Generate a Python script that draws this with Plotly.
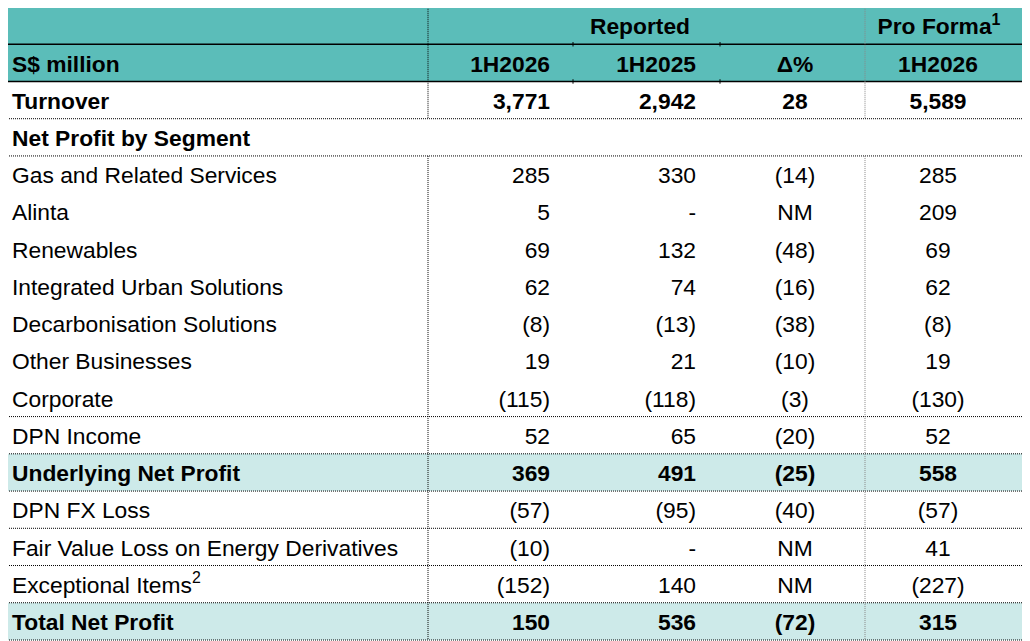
import plotly.graph_objects as go

# table content
labels = ["Turnover", "Net Profit by Segment", "Gas and Related Services", "Alinta",
          "Renewables", "Integrated Urban Solutions", "Decarbonisation Solutions",
          "Other Businesses", "Corporate", "DPN Income", "Underlying Net Profit",
          "DPN FX Loss", "Fair Value Loss on Energy Derivatives",
          "Exceptional Items<sup>2</sup>", "Total Net Profit"]
rep_1h2026 = [3771, None, 285, 5, 69, 62, -8, 19, -115, 52, 369, -57, -10, -152, 150]
rep_1h2025 = [2942, None, 330, "-", 132, 74, -13, 21, -118, 65, 491, -95, "-", 140, 536]
delta_pct = [28, None, -14, "NM", -48, -16, -38, -10, -3, -20, -25, -40, "NM", "NM", -72]
proforma_1h2026 = [5589, None, 285, 209, 69, 62, -8, 19, -130, 52, 558, -57, 41, -227, 315]

header_top = ["Reported", "Pro Forma<sup>1</sup>"]
header_cols = ["S$ million", "1H2026", "1H2025", "Δ%", "1H2026"]

bold_rows = ["Turnover", "Net Profit by Segment", "Underlying Net Profit", "Total Net Profit"]
shaded_rows = ["Underlying Net Profit", "Total Net Profit"]
lines_after = ["Turnover", "Net Profit by Segment", "Corporate", "DPN Income",
               "Underlying Net Profit", "DPN FX Loss",
               "Fair Value Loss on Energy Derivatives", "Exceptional Items<sup>2</sup>",
               "Total Net Profit"]

TEAL = "#5bbdb9"
LIGHT = "#cdeae9"
FONT = "Liberation Sans, Arial, sans-serif"
FS = 22.8
X0, X1 = 5, 1027
PAGE_OFF = 8  # default body margin of the html page
TXT_DY = 0.08  # nudge text down a little inside each row


def fmt(v):
    if v is None:
        return ""
    if isinstance(v, str):
        return v
    s = f"{abs(v):,}"
    return f"({s})" if v < 0 else s


def bold(txt, on):
    return f"<b>{txt}</b>" if on else txt


fig = go.Figure()


def add_col(x, texts, pos):
    pts = [(i, bold(t, labels[i] in bold_rows)) for i, t in enumerate(texts) if t]
    fig.add_trace(go.Scatter(
        x=[x] * len(pts), y=[p[0] + TXT_DY for p in pts], mode="text",
        text=[p[1] for p in pts],
        textposition=pos, textfont=dict(family=FONT, size=FS, color="black"),
        hoverinfo="skip", showlegend=False))


add_col(12, labels, "middle right")
add_col(550, [fmt(v) for v in rep_1h2026], "middle left")
add_col(696, [fmt(v) for v in rep_1h2025], "middle left")
add_col(795, [fmt(v) for v in delta_pct], "middle center")
add_col(938, [fmt(v) for v in proforma_1h2026], "middle center")

# header rows (-2 and -1)
fig.add_trace(go.Scatter(
    x=[640, 939], y=[-2 + TXT_DY] * 2, mode="text",
    text=[f"<b>{t}</b>" for t in header_top], textposition="middle center",
    textfont=dict(family=FONT, size=FS, color="black"),
    hoverinfo="skip", showlegend=False))
fig.add_trace(go.Scatter(
    x=[12, 550, 696, 795, 938], y=[-1 + TXT_DY] * 5, mode="text",
    text=[f"<b>{t}</b>" for t in header_cols],
    textposition=["middle right", "middle left", "middle left", "middle center", "middle center"],
    textfont=dict(family=FONT, size=FS, color="black"),
    hoverinfo="skip", showlegend=False))

shapes = []
# backgrounds
shapes.append(dict(type="rect", x0=X0, x1=X1, y0=-2.5, y1=-0.5, fillcolor=TEAL,
                   line_width=0, layer="below"))
for lab in shaded_rows:
    i = labels.index(lab)
    shapes.append(dict(type="rect", x0=X0, x1=X1, y0=i - 0.5, y1=i + 0.5,
                       fillcolor=LIGHT, line_width=0, layer="below"))

# solid header rules
for yy in [-2.5, -1.5, -0.5]:
    shapes.append(dict(type="line", x0=X0, x1=X1, y0=yy, y1=yy,
                       line=dict(color="black", width=1.5)))
# dotted row rules
for lab in lines_after:
    i = labels.index(lab)
    shapes.append(dict(type="line", x0=X0, x1=X1, y0=i + 0.5, y1=i + 0.5,
                       line=dict(color="black", width=1, dash="1px,1px")))

# vertical dotted rules (broken at the segment title row)
seg = labels.index("Net Profit by Segment")
for xx, col in [(428, "black"), (865, "#888888")]:
    for ya, yb in [(-2.56, seg - 0.5), (seg + 0.5, len(labels) - 0.5)]:
        shapes.append(dict(type="line", x0=xx, x1=xx, y0=ya, y1=yb,
                           line=dict(color=col, width=1, dash="1px,1px")))

# small ticks on header rule
for xx in [573, 720]:
    for yy in [-1.5, -0.5]:
        shapes.append(dict(type="line", x0=xx, x1=xx, y0=yy - 0.06, y1=yy + 0.06,
                           line=dict(color="black", width=1)))

ppr = 633 / 17  # pixels per table row
fig.update_layout(
    width=1030 - PAGE_OFF, height=641 - PAGE_OFF,
    margin=dict(l=0, r=0, t=0, b=0),
    paper_bgcolor="white", plot_bgcolor="white",
    xaxis=dict(range=[PAGE_OFF, 1030], visible=False, fixedrange=True),
    yaxis=dict(range=[14.5 + 1 / ppr, -2.5 + (PAGE_OFF - 7) / ppr],
               visible=False, fixedrange=True),
    shapes=shapes,
)

fig.write_html("out.html", config={"displayModeBar": False})
